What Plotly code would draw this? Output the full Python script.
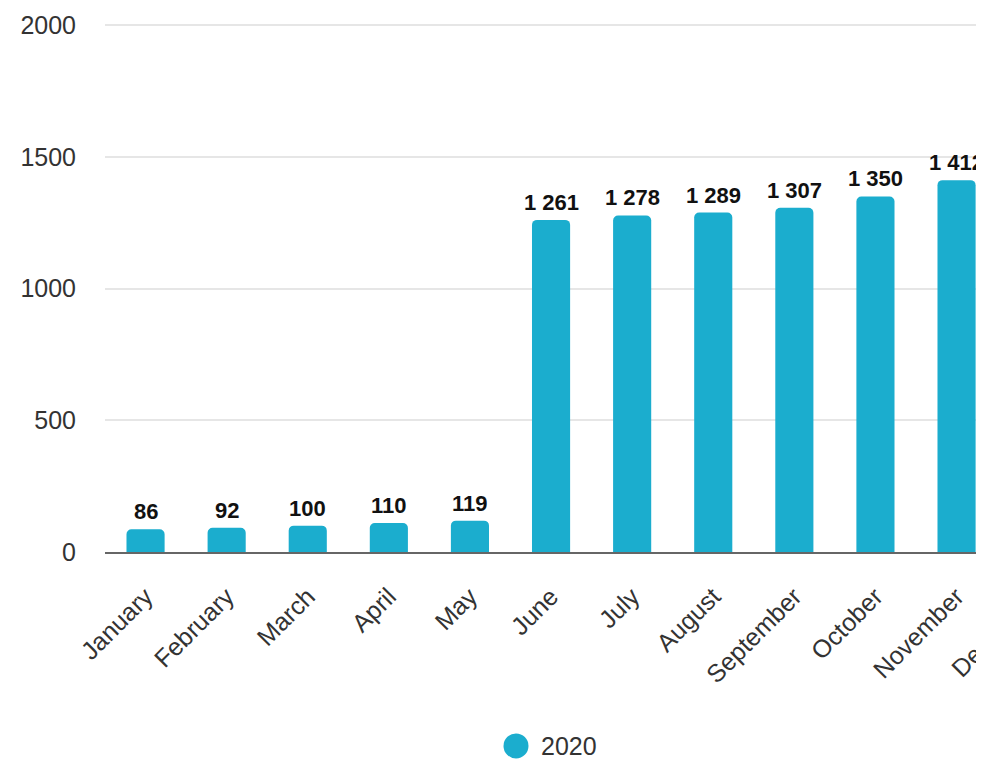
import plotly.graph_objects as go

months = ["January", "February", "March", "April", "May", "June", "July",
          "August", "September", "October", "November", "December"]
values_2020 = [86, 92, 100, 110, 119, 1261, 1278, 1289, 1307, 1350, 1412]
series_name = "2020"
y_ticks = [0, 500, 1000, 1500, 2000]

BAR_COLOR = "#1badce"
FONT = "Liberation Sans, Arial, sans-serif"

OFF = 8  # default page body margin
Y_TOP = 2020
px_per_unit = (552 - 25) / 2000
W, H = 976 - OFF, 764 - OFF
ML, MR = 105 - OFF, 0
plot_bottom = 552 - OFF
MT = plot_bottom - Y_TOP * px_per_unit
MB = H - plot_bottom
plot_w = W - ML - MR
plot_h = plot_bottom - MT
cat_px = 81.1

shown = months[:len(values_2020)]

fig = go.Figure()
fig.add_trace(go.Bar(
    x=shown, y=values_2020, name=series_name,
    marker=dict(color=BAR_COLOR, cornerradius=5, line=dict(width=0)),
    showlegend=False, hoverinfo="x+y",
))

def fmt(v):
    return f"{v:,}".replace(",", " ")

annotations = []
for m, v in zip(shown, values_2020):
    annotations.append(dict(
        x=m, y=v, xref="x", yref="y", text=fmt(v), showarrow=False,
        yanchor="bottom", xanchor="center", yshift=3,
        font=dict(family=FONT, size=22, color="#111111", weight="bold"),
    ))

# page-pixel -> paper coords
def px_x(p):
    return (p - OFF - ML) / plot_w

def px_y(p):
    return (plot_bottom - (p - OFF)) / plot_h

# clipped December category label
annotations.append(dict(
    x=px_x(996), y=px_y(632), xref="paper", yref="paper", text=months[-1],
    showarrow=False, textangle=-45, xanchor="center", yanchor="middle",
    font=dict(family=FONT, size=25, color="#333333"),
))
# legend text
annotations.append(dict(
    x=px_x(539), y=px_y(746), xref="paper", yref="paper", text=series_name,
    showarrow=False, xanchor="left", yanchor="middle",
    font=dict(family=FONT, size=25, color="#333333"),
))

shapes = [dict(
    type="circle", xref="paper", yref="paper",
    x0=px_x(503.5), x1=px_x(528.5), y0=px_y(758.5), y1=px_y(733.5),
    fillcolor=BAR_COLOR, line=dict(width=0),
)]

fig.update_layout(
    width=W, height=H,
    margin=dict(l=ML, r=MR, t=MT, b=MB, pad=0),
    paper_bgcolor="white", plot_bgcolor="white",
    separators=". ",
    bargap=0.53,
    showlegend=False,
    font=dict(family=FONT, color="#333333"),
    annotations=annotations,
    shapes=shapes,
    xaxis=dict(
        categoryorder="array", categoryarray=months,
        range=[-0.5, -0.5 + plot_w / cat_px],
        tickangle=-45, tickfont=dict(size=25, color="#333333", family=FONT),
        showline=True, linecolor="#666666", linewidth=2,
        showgrid=False, ticks="", ticklabelstandoff=18,
        fixedrange=True,
    ),
    yaxis=dict(
        range=[0, Y_TOP], tickvals=y_ticks,
        tickfont=dict(size=25, color="#333333", family=FONT),
        showgrid=True, gridcolor="#e6e6e6", gridwidth=1.5,
        zeroline=False, showline=False, ticks="",
        ticklabelstandoff=28, fixedrange=True,
    ),
)

fig.write_html("out.html")
